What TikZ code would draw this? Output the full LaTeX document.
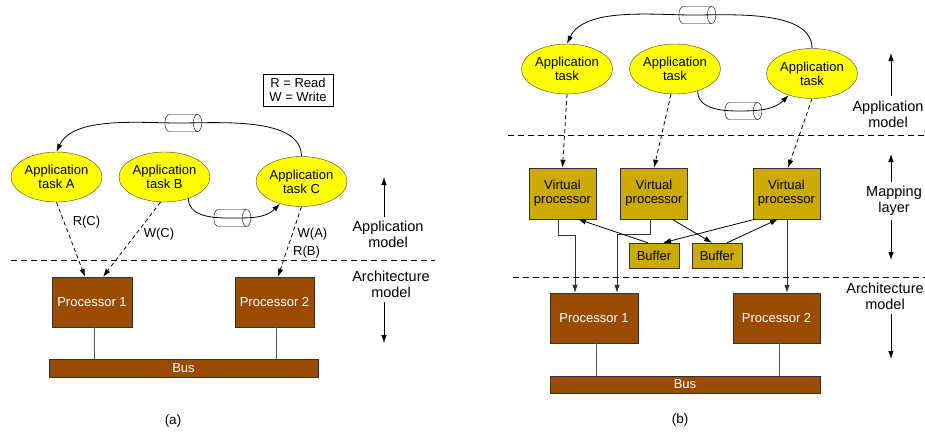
\documentclass[tikz,border=0pt]{standalone}
\usepackage{fontspec}
\setmainfont{Liberation Sans}
\usetikzlibrary{shapes.geometric,arrows.meta}

\definecolor{taskyellow}{HTML}{FFFF00}
\definecolor{procbrown}{HTML}{994C00}
\definecolor{vpgold}{HTML}{CCAA00}

\begin{document}
\begin{tikzpicture}[x=1pt,y=1pt]
\tikzstyle{every node}+=[inner sep=0pt,font=\fontsize{13}{14}\selectfont]
\tikzstyle{task}=[ellipse,draw=black!75,fill=taskyellow,minimum width=91pt,minimum height=50pt,align=center]
\tikzstyle{chan}=[cylinder,draw=black,shape border rotate=0,inner sep=8.5pt,shape aspect=0.5,minimum width=17pt,minimum height=37pt]
\tikzstyle{proc}=[rectangle,draw=black!80,fill=procbrown,text=white,minimum width=80pt,minimum height=50pt]
\tikzstyle{vproc}=[rectangle,draw=black!80,fill=vpgold,minimum width=67pt,minimum height=51pt,align=center]
\tikzstyle{buffer}=[rectangle,draw=black!80,fill=vpgold,minimum width=50pt,minimum height=25pt]
\tikzstyle{bus}=[rectangle,draw=black!80,fill=procbrown,text=white,minimum height=18pt]
\tikzstyle{legend}=[rectangle,draw=black,fill=white,minimum width=70pt,minimum height=32pt,align=center]
\tikzstyle{side}=[align=center,inner sep=4pt,font=\fontsize{14.5}{16}\selectfont]
\tikzstyle{arr}=[-{Latex[length=8pt,width=5.5pt]},line width=0.8pt]
\tikzstyle{dasharr}=[arr,dash pattern=on 4pt off 3pt]
\tikzstyle{sep}=[line width=0.8pt,dash pattern=on 6pt off 4pt]
\tikzstyle{link}=[line width=0.8pt,black!65]
\useasboundingbox (0,0) rectangle (925,-432);

% (a) application model on the architecture
\node[task] (tA) at (56.5,-177) {Application\\task A};
\node[task] (tB) at (164.5,-177) {Application\\task B};
\node[task] (tC) at (301.5,-181.5) {Application\\task C};
\node[chan] (cA1) at (179,-123) {};
\node[chan] (cA2) at (228,-218) {};
\node[legend] (key) at (298,-90) {R = Read\\W = Write};
\node[proc] (pA1) at (92,-302) {Processor 1};
\node[proc,minimum width=79pt] (pA2) at (274.5,-302) {Processor 2};
\node[bus,minimum width=269pt] (busA) at (183.5,-368) {Bus};
\draw[arr] (tC.north) to[out=90,in=0,looseness=0.8] (cA1.center) to[out=180,in=65,looseness=0.8] (tA.north);
\draw[arr] (tB.-42) to[out=-90,in=180] (cA2.center) to[out=0,in=-135] (tC.-134);
\draw[dasharr] (tA.south) -- ([xshift=-7pt]pA1.north);
\draw[dasharr] ([xshift=-4pt]tB.south) -- ([xshift=11pt]pA1.north);
\draw[dasharr] (tC.south) -- ([xshift=3.5pt]pA2.north);
\node (lRC) at (86.5,-222.5) {R(C)};
\node (lWC) at (159,-234.5) {W(C)};
\node (lWA) at (312.5,-234.5) {W(A)};
\node (lRB) at (306.5,-252) {R(B)};
\draw[link] ([xshift=2pt]pA1.south) -- ([xshift=2pt]pA1.south |- busA.north);
\draw[link] ([xshift=2pt]pA2.south) -- ([xshift=2pt]pA2.south |- busA.north);
\draw[sep] (11,-260) -- (435,-260);
\node[side] (appA) at (388,-234.5) {Application\\model};
\node[side] (archA) at (391,-284.5) {Architecture\\model};
\coordinate (upA) at (384,-177);
\coordinate (downA) at (384,-343);
\draw[arr] (appA.north -| upA) -- (upA);
\draw[arr] (archA.south -| downA) -- (downA);
\node[font=\fontsize{13.5}{15}\selectfont] (capA) at (173,-421) {(a)};

% (b) with the mapping layer
\node[task] (t1) at (567,-69) {Application\\task};
\node[task] (t2) at (675,-69) {Application\\task};
\node[task] (t3) at (812,-73.5) {Application\\task};
\node[chan] (cB1) at (693,-15) {};
\node[chan] (cB2) at (739,-111) {};
\node[vproc] (vp1) at (562.5,-193.5) {Virtual\\processor};
\node[vproc] (vp2) at (654,-193.5) {Virtual\\processor};
\node[vproc] (vp3) at (786.5,-193.5) {Virtual\\processor};
\node[buffer] (bf1) at (654,-255.5) {Buffer};
\node[buffer] (bf2) at (717,-255.5) {Buffer};
\node[proc,minimum width=88pt] (p1) at (594,-318) {Processor 1};
\node[proc,minimum width=87pt] (p2) at (776.5,-318) {Processor 2};
\node[bus,minimum width=270pt,minimum height=17pt] (busB) at (685,-384.5) {Bus};
\draw[arr] (t3.north) to[out=90,in=0,looseness=0.8] (cB1.center) to[out=180,in=65,looseness=0.8] (t1.north);
\draw[arr] (t2.-44) to[out=-90,in=180] (cB2.center) to[out=0,in=-135] (t3.-137);
\draw[dasharr] (t1.south) -- (vp1.north);
\draw[dasharr] ([xshift=-4pt]t2.south) -- (vp2.north);
\draw[dasharr] (t3.south) -- ([xshift=1.5pt]vp3.north);
\draw[arr,black!80] ([xshift=-4.5pt]vp1.south) -- ++(0,-16) -| ([xshift=-19pt]p1.north);
\draw[arr,black!80] ([xshift=-4pt]vp2.south) -- ++(0,-15) -| ([xshift=23pt]p1.north);
\draw[arr,black!80] ([xshift=0.5pt]vp3.south) -- ([xshift=0.5pt]vp3.south |- p2.north);
\draw[arr] ([xshift=-6pt]bf1.north) -- ([xshift=15.5pt]vp1.south);
\draw[arr] ([xshift=18pt]vp2.south) -- ([xshift=-5pt]bf2.north);
\draw[arr] ([xshift=-31.5pt]vp3.south) -- ([xshift=9pt]bf1.north);
\draw[arr] ([xshift=10pt]bf2.north) -- ([xshift=-8.5pt]vp3.south);
\draw[link] ([xshift=2pt]p1.south) -- ([xshift=2pt]p1.south |- busB.north);
\draw[link] ([xshift=2.5pt]p2.south) -- ([xshift=2.5pt]p2.south |- busB.north);
\draw[sep] (508,-135) -- (925,-135);
\draw[sep] (513,-277) -- (925,-277);
\node[side] (appB) at (888,-114) {Application\\model};
\node[side] (mapB) at (894,-201) {Mapping\\layer};
\node[side] (archB) at (885,-296) {Architecture\\model};
\coordinate (upB) at (891,-53);
\coordinate (upM) at (891,-154);
\coordinate (downM) at (891,-260);
\coordinate (downB) at (891,-359);
\draw[arr] (appB.north -| upB) -- (upB);
\draw[arr] (mapB.north -| upM) -- (upM);
\draw[arr] (mapB.south -| downM) -- (downM);
\draw[arr] (archB.south -| downB) -- (downB);
\node[font=\fontsize{13.5}{15}\selectfont] (capB) at (680,-420) {(b)};
\end{tikzpicture}
\end{document}
